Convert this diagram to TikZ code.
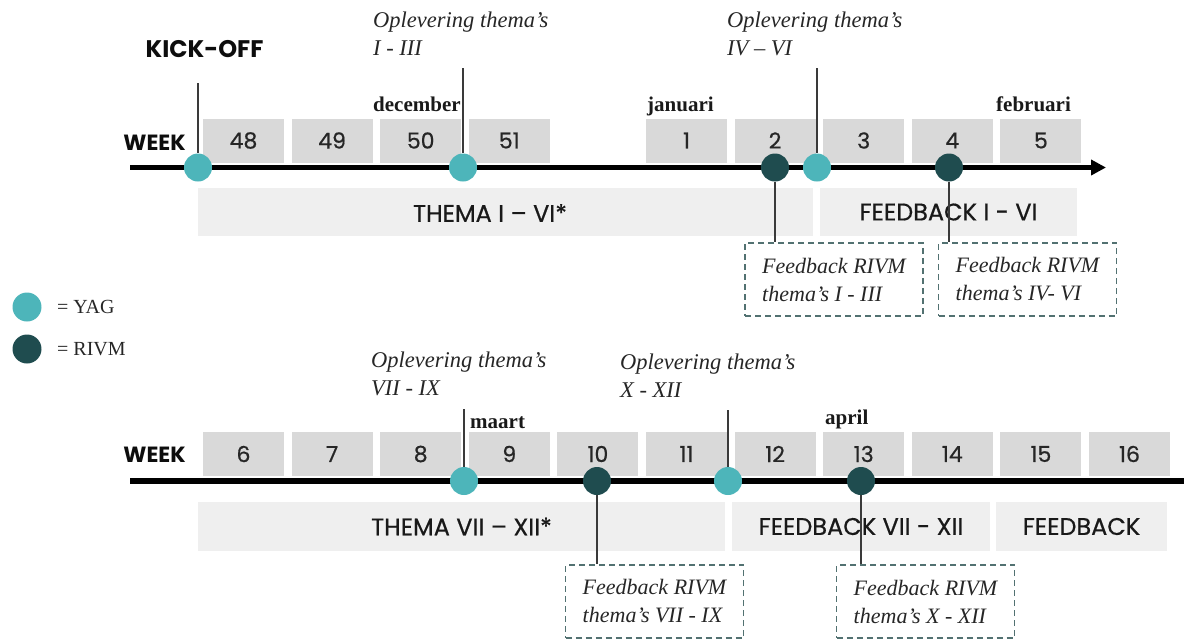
\documentclass[tikz,border=0pt]{standalone}
\usepackage{fontspec}
\setmainfont{Liberation Serif}
\newfontfamily\pop{Poppins}
\newfontfamily\popm[FakeBold=0.6]{Poppins}
\usetikzlibrary{arrows.meta}
\definecolor{yag}{HTML}{4DB5BA}
\definecolor{rivm}{HTML}{1F4C4F}
\definecolor{wk}{HTML}{D9D9D9}
\definecolor{barc}{HTML}{EFEFEF}
\definecolor{dsh}{HTML}{527171}
\definecolor{conn}{HTML}{3A3A3A}
\begin{document}
\begin{tikzpicture}[x=1pt,y=-1pt,
  wkbox/.style={fill=wk, minimum width=81pt, minimum height=44pt, inner sep=0pt,
    font=\popm\fontsize{22pt}{22pt}\selectfont, text=black!85},
  barbox/.style={fill=barc, inner sep=0pt, font=\popm\fontsize{24pt}{24pt}\selectfont, text=black!90},
  barlab/.style={inner sep=0pt, font=\popm\fontsize{24pt}{24pt}\selectfont, text=black!90},
  yagdot/.style={circle, fill=yag, minimum size=28pt, inner sep=0pt},
  rivmdot/.style={circle, fill=rivm, minimum size=28pt, inner sep=0pt},
  connline/.style={draw=conn, line width=1.2pt},
  axisline/.style={line width=5.5pt, black},
  opl/.style={inner sep=0pt, anchor=west, align=left, font=\itshape\fontsize{22.5pt}{28pt}\selectfont, text=black!85},
  mon/.style={inner sep=0pt, anchor=base west, font=\bfseries\fontsize{21pt}{21pt}\selectfont, text=black!90},
  hdr/.style={inner sep=0pt, font=\pop\bfseries\fontsize{22pt}{22pt}\selectfont, text=black!95},
  fbbox/.style={draw=dsh, line width=1.3pt, dash pattern=on 6pt off 4pt, minimum width=178pt,
    minimum height=73pt, inner xsep=10pt, inner ysep=0pt, align=left,
    font=\itshape\fontsize{22pt}{28pt}\selectfont, text=black!85},
  legtext/.style={inner sep=0pt, anchor=west, font=\fontsize{20pt}{20pt}\selectfont, text=black!85}
]
\useasboundingbox (0,0) rectangle (1184,638);

% ---------- TOP TIMELINE ----------
\node[hdr, font=\pop\bfseries\fontsize{24pt}{24pt}\selectfont] (kick) at (204.5,49) {KICK-OFF};
\node[hdr] (week1) at (154.5,142.5) {WEEK};

\foreach \i/\n in {0/48,1/49,2/50,3/51,5/1,6/2,7/3,8/4,9/5}
  \node[wkbox] (w\n) at ({243.5+88.6*\i},140.5) {\n};

\node[mon] (dec) at (373,111) {december};
\node[mon] (jan) at (647,111) {januari};
\node[mon] (feb) at (996,111) {februari};

\node[barbox, minimum width=615pt, minimum height=48pt] (thema1) at (505.5,212) {};
\node[barlab] (thema1lab) at (490,213) {THEMA I – VI*};
\node[barbox, minimum width=257pt, minimum height=48pt] (fbbar1) at (948.5,212) {FEEDBACK I - VI};

\coordinate (axL1) at (130,167.5);
\coordinate (axR1) at (1106,167.5);
\draw[axisline, -{Triangle[length=15pt,width=15pt]}] (axL1) -- (axR1);

\node[yagdot] (y1) at (198,167.5) {};
\node[yagdot] (y2) at (463,167.5) {};
\node[rivmdot] (r1) at (775,167.5) {};
\node[yagdot] (y3) at (817,167.5) {};
\node[rivmdot] (r2) at (949,167.5) {};

\node[opl] (opl1) at (373,34) {Oplevering thema’s\\I - III};
\node[opl] (opl2) at (727,34) {Oplevering thema’s\\IV – VI};

\coordinate (y1top) at (198,83);
\coordinate (y2top) at (463,68);
\coordinate (y3top) at (817,68);
\draw[connline] (y1top) -- (y1);
\draw[connline] (y2top) -- (y2);
\draw[connline] (y3top) -- (y3);

\node[fbbox] (fb1) at (834,279.5) {Feedback RIVM\\thema’s I - III};
\node[fbbox] (fb2) at (1027.5,279.5) {Feedback RIVM\\thema’s IV- VI};
\draw[connline] (r1) -- (r1 |- fb1.north);
\draw[connline] (r2) -- (r2 |- fb2.north);

% ---------- LEGEND ----------
\node[yagdot, minimum size=29pt] (legy) at (27,307) {};
\node[rivmdot, minimum size=29pt] (legr) at (27,349) {};
\node[legtext] (legyt) at (57,307) {= YAG};
\node[legtext] (legrt) at (57,349) {= RIVM};

% ---------- BOTTOM TIMELINE ----------
\node[hdr] (week2) at (154.5,455) {WEEK};
\foreach \i/\n in {0/6,1/7,2/8,3/9,4/10,5/11,6/12,7/13,8/14,9/15,10/16}
  \node[wkbox] (v\n) at ({243.5+88.6*\i},454) {\n};

\node[mon] (maa) at (470,428) {maart};
\node[mon] (apr) at (825,424) {april};

\node[barbox, minimum width=527pt, minimum height=49pt] (thema2) at (461.5,526.5) {THEMA VII – XII*};
\node[barbox, minimum width=258pt, minimum height=49pt] (fbbar2) at (861,526.5) {FEEDBACK VII - XII};
\node[barbox, minimum width=171pt, minimum height=49pt] (fbbar3) at (1081.5,526.5) {FEEDBACK};

\coordinate (axL2) at (130,481);
\coordinate (axR2) at (1184,481);
\draw[axisline] (axL2) -- (axR2);

\node[yagdot] (y4) at (464,481) {};
\node[rivmdot] (r3) at (597,481) {};
\node[yagdot] (y5) at (728,481) {};
\node[rivmdot] (r4) at (861,481) {};

\node[opl] (opl3) at (371,374) {Oplevering thema’s\\VII - IX};
\node[opl] (opl4) at (620,376) {Oplevering thema’s\\X - XII};

\coordinate (y4top) at (464,409);
\coordinate (y5top) at (728,410);
\draw[connline] (y4top) -- (y4);
\draw[connline] (y5top) -- (y5);

\node[fbbox] (fb3) at (654.5,601.5) {Feedback RIVM\\thema’s VII - IX};
\node[fbbox] (fb4) at (925.5,601.5) {Feedback RIVM\\thema’s X - XII};
\draw[connline] (r3) -- (r3 |- fb3.north);
\draw[connline] (r4) -- (r4 |- fb4.north);
\end{tikzpicture}
\end{document}
